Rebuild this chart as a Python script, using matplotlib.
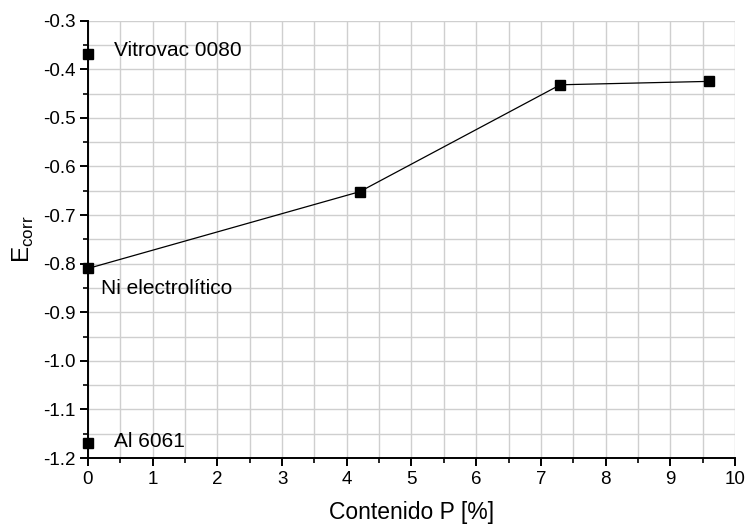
import matplotlib
matplotlib.use("Agg")
import matplotlib.pyplot as plt
from matplotlib.ticker import MultipleLocator, FormatStrFormatter

plt.rcParams['font.family'] = ['Liberation Sans', 'DejaVu Sans']

# Series data
p_content = [0.0, 4.2, 7.3, 9.6]
e_corr = [-0.810, -0.652, -0.432, -0.425]

# Reference materials (at x = 0)
ref_names = ["Vitrovac 0080", "Ni electrolítico", "Al 6061"]
ref_x = [0.0, 0.0, 0.0]
ref_y = [-0.369, -0.810, -1.169]
label_x = [0.4, 0.2, 0.4]
label_y = [-0.362, -0.851, -1.167]

fig = plt.figure(figsize=(7.48, 5.29), dpi=100)
ax = fig.add_axes([0.1176, 0.1342, 0.8650, 0.8268])

ax.plot(p_content, e_corr, color='black', lw=0.9, marker='s', ms=7,
        mfc='black', mec='black', clip_on=False, zorder=3)
ax.plot([ref_x[0], ref_x[2]], [ref_y[0], ref_y[2]], ls='none', marker='s', ms=7,
        color='black', clip_on=False, zorder=3)

for name, lx, ly in zip(ref_names, label_x, label_y):
    ax.text(lx, ly, name, fontsize=15, va='center', ha='left')

ax.set_xlim(0, 10)
ax.set_ylim(-1.2, -0.3)
ax.xaxis.set_major_locator(MultipleLocator(1))
ax.xaxis.set_minor_locator(MultipleLocator(0.5))
ax.yaxis.set_major_locator(MultipleLocator(0.1))
ax.yaxis.set_minor_locator(MultipleLocator(0.05))
ax.yaxis.set_major_formatter(FormatStrFormatter('%.1f'))

ax.grid(True, which='both', color='#cfcfcf', lw=1.0)
ax.set_axisbelow(True)

for s in ['top', 'right']:
    ax.spines[s].set_visible(False)
for s in ['left', 'bottom']:
    ax.spines[s].set_linewidth(1.4)

ax.tick_params(which='major', direction='out', length=6, width=1.4, labelsize=13.5, pad=3)
ax.tick_params(which='minor', direction='out', length=3.5, width=1.2)

ax.set_xlabel("Contenido P [%]", fontsize=16.5, labelpad=10)
ax.set_ylabel(r"E$_{\mathregular{corr}}$", fontsize=17.5, labelpad=5)

fig.savefig("out.png", dpi=100)
